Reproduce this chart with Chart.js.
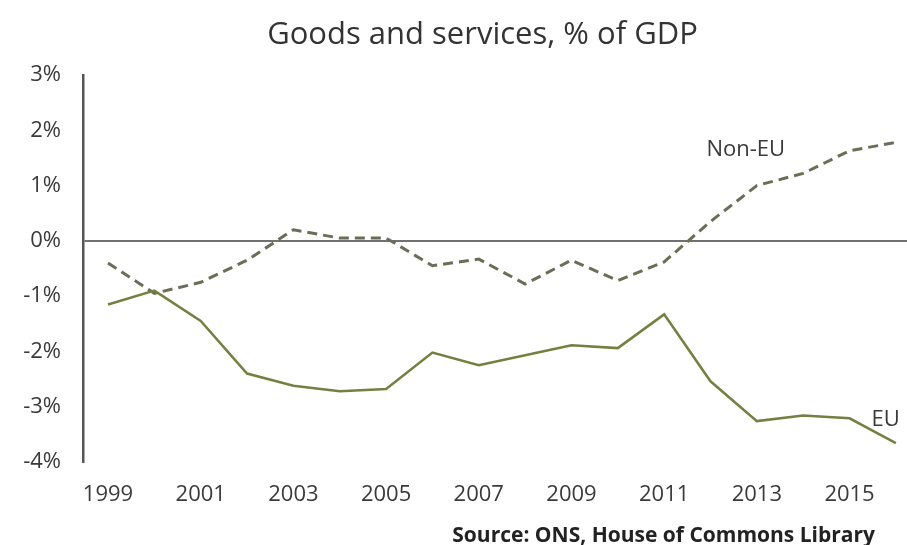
<!DOCTYPE html>
<html lang="en">

<head>
  <meta charset="UTF-8">
  <title>Goods and services, % of GDP</title>
  <script src="https://cdn.jsdelivr.net/npm/chart.js"></script>
  <style>
    body { margin: 0; background: #fff; }
    .wrap { width: 907px; height: 545px; }
  </style>
</head>

<body>
  <div class="wrap">
    <canvas id="tradeChart" width="907" height="545"></canvas>
  </div>
  <script>
    const years = [1999, 2000, 2001, 2002, 2003, 2004, 2005, 2006, 2007, 2008,
      2009, 2010, 2011, 2012, 2013, 2014, 2015, 2016];
    const euValues = [-1.15, -0.9, -1.45, -2.4, -2.62, -2.72, -2.68, -2.02, -2.25, -2.07,
      -1.89, -1.94, -1.33, -2.54, -3.26, -3.16, -3.21, -3.66];
    const nonEuValues = [-0.4, -0.95, -0.75, -0.35, 0.2, 0.05, 0.05, -0.45, -0.33, -0.78,
      -0.35, -0.72, -0.38, 0.35, 1.0, 1.22, 1.63, 1.78];
    const xTickYears = [1999, 2001, 2003, 2005, 2007, 2009, 2011, 2013, 2015];
    const yTickValues = [-4, -3, -2, -1, 0, 1, 2, 3];

    const FONT = "'Open Sans', 'Noto Sans', sans-serif";
    const textColor = '#3a3a3a';

    // series labels sit next to the lines, in data units
    const seriesLabels = [
      { text: 'Non-EU', x: 2012.76, y: 1.65 },
      { text: 'EU', x: 2015.78, y: -3.24 }
    ];

    const labelPlugin = {
      id: 'labels',
      afterDatasetsDraw(chart) {
        const { ctx, scales } = chart;
        ctx.save();
        ctx.textBaseline = 'middle';

        // title, a little right of the canvas centre like the original
        ctx.fillStyle = '#333';
        ctx.textAlign = 'center';
        ctx.font = `31px ${FONT}`;
        ctx.fillText('Goods and services, % of GDP', chart.width / 2 + 29, 35);

        ctx.fillStyle = textColor;
        ctx.font = `22px ${FONT}`;
        seriesLabels.forEach(l => {
          ctx.fillText(l.text, scales.x.getPixelForValue(l.x), scales.y.getPixelForValue(l.y));
        });

        ctx.font = `bold 21px ${FONT}`;
        ctx.textAlign = 'right';
        ctx.fillStyle = '#222';
        ctx.fillText('Source: ONS, House of Commons Library', chart.width - 32, chart.height - 9);
        ctx.restore();
      }
    };

    const ctx = document.getElementById('tradeChart').getContext('2d');
    new Chart(ctx, {
      type: 'line',
      data: {
        datasets: [{
          label: 'EU',
          data: years.map((y, i) => ({ x: y, y: euValues[i] })),
          borderColor: '#738040',
          borderWidth: 2.5,
          pointRadius: 0,
          tension: 0
        }, {
          label: 'Non-EU',
          data: years.map((y, i) => ({ x: y, y: nonEuValues[i] })),
          borderColor: '#6d6d57',
          borderWidth: 3,
          borderDash: [10, 6],
          pointRadius: 0,
          tension: 0
        }]
      },
      options: {
        responsive: false,
        animation: false,
        layout: { padding: { left: 0, right: 0, top: 75, bottom: 0 } },
        plugins: {
          legend: { display: false },
          tooltip: { enabled: false },
          title: { display: false }
        },
        scales: {
          x: {
            type: 'linear',
            min: 1998.46,
            max: 2016.24,
            afterBuildTicks: scale => { scale.ticks = xTickYears.map(v => ({ value: v })); },
            afterFit: scale => { scale.height = 83; },
            ticks: {
              color: textColor,
              font: { family: FONT, size: 22 },
              padding: 12,
              maxRotation: 0,
              autoSkip: false,
              callback: v => String(v)
            },
            grid: { display: false },
            border: { display: false }
          },
          y: {
            min: -4,
            max: 3,
            afterBuildTicks: scale => { scale.ticks = yTickValues.map(v => ({ value: v })); },
            afterFit: scale => { scale.width = 83; },
            ticks: {
              color: textColor,
              font: { family: FONT, size: 22 },
              padding: 22,
              callback: v => v + '%'
            },
            grid: {
              drawTicks: false,
              color: c => c.tick.value === 0 ? '#707070' : 'rgba(0,0,0,0)',
              lineWidth: 2
            },
            border: { display: true, color: '#555', width: 2.5 }
          }
        }
      },
      plugins: [labelPlugin]
    });
  </script>
</body>

</html>
